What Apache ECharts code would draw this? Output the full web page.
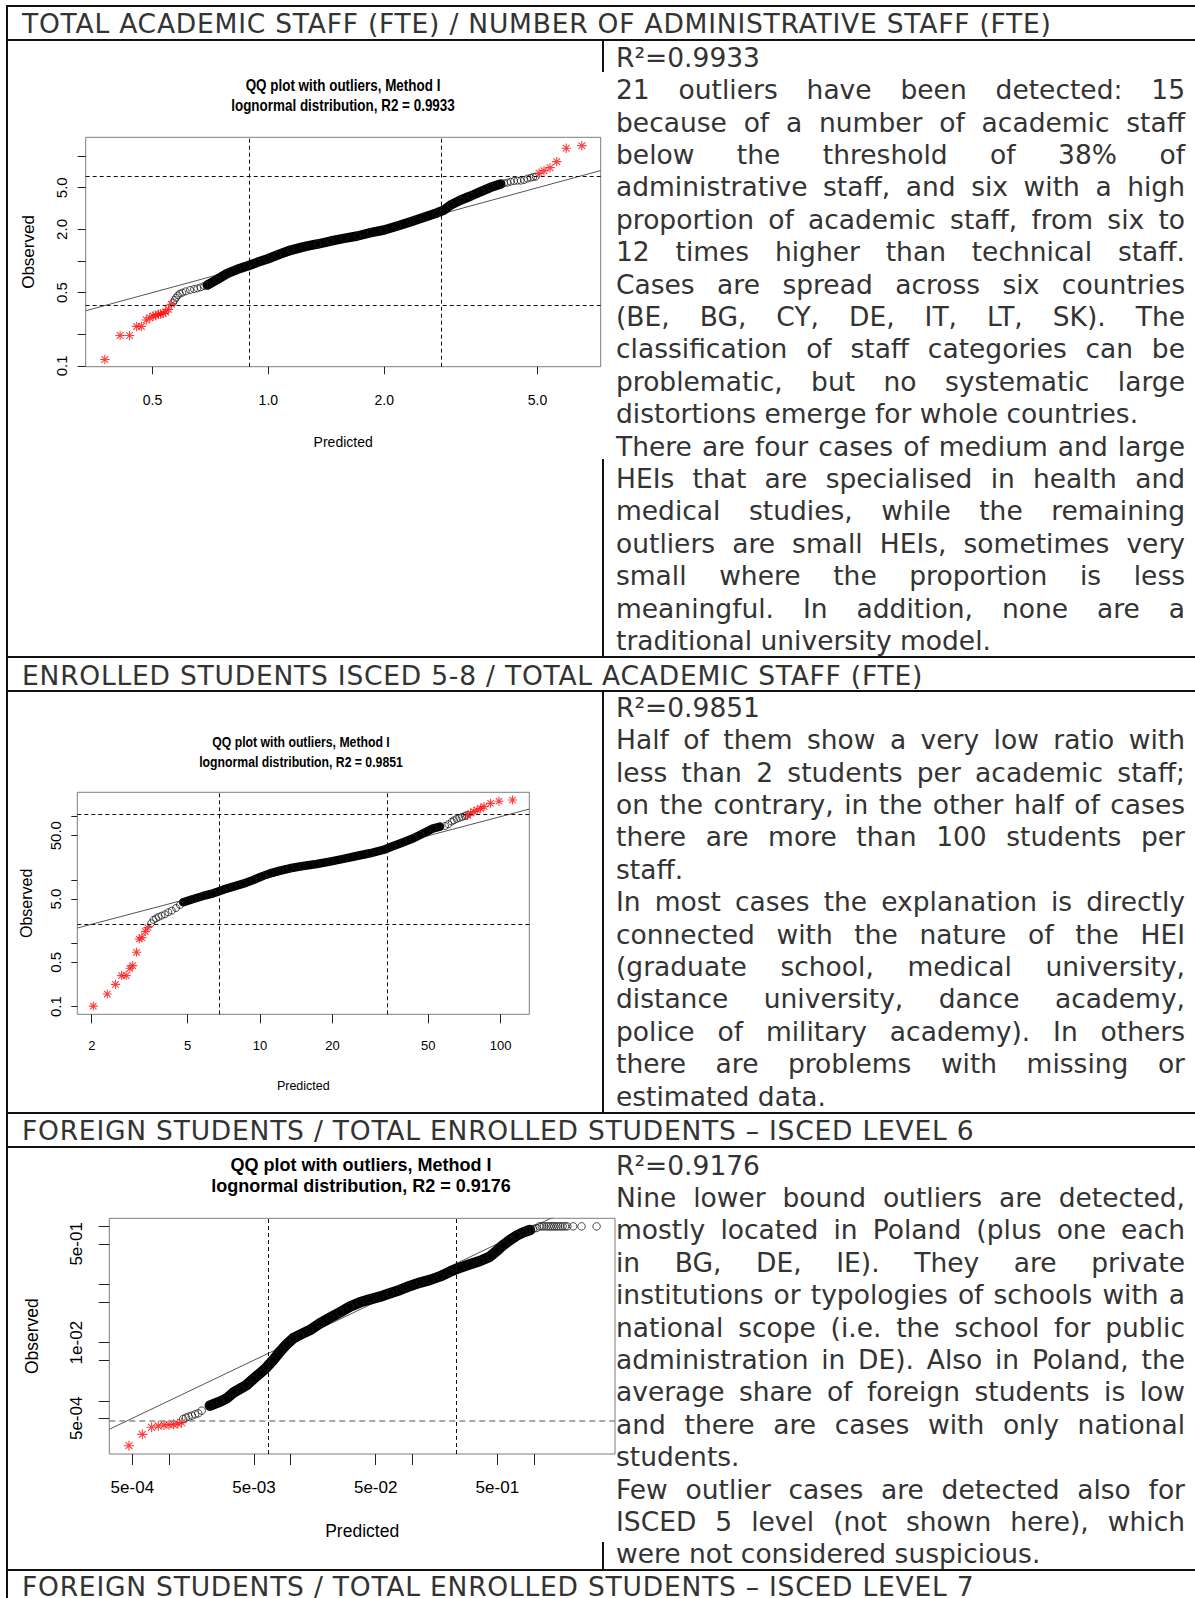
<!DOCTYPE html>
<html>
<head>
<meta charset="utf-8">
<script src="https://cdn.jsdelivr.net/npm/echarts@6.0.0/dist/echarts.min.js"></script>
<style>
html,body{margin:0;padding:0;background:#fff;}
#page{position:relative;width:1195px;height:1598px;overflow:hidden;background:#fff;font-family:"DejaVu Sans",Verdana,sans-serif;color:#333;}
.hl{position:absolute;left:6px;right:0;height:2px;background:#111;}
.vl{position:absolute;width:2px;background:#111;}
.hd{position:absolute;left:22px;font-size:26.5px;line-height:32.4px;white-space:nowrap;letter-spacing:0.78px;}
.tx{position:absolute;left:616px;width:569px;font-size:26.5px;line-height:32.4px;}
.tx div{height:32.4px;}
.j{text-align:justify;text-align-last:justify;}
.chart{position:absolute;}
</style>
</head>
<body>
<div id="page">
  <div class="hl" style="top:5px"></div>
  <div class="hl" style="top:39px"></div>
  <div class="hl" style="top:655.5px"></div>
  <div class="hl" style="top:689.5px"></div>
  <div class="hl" style="top:1112px"></div>
  <div class="hl" style="top:1145.5px"></div>
  <div class="hl" style="top:1569px"></div>
  <div class="vl" style="left:6px;top:5px;height:1593px"></div>
  <div class="vl" style="left:602px;top:40px;height:617px"></div>
  <div class="vl" style="left:602px;top:690px;height:423px"></div>
  <div class="vl" style="left:602px;top:1146px;height:424px"></div>

  <div class="hd" style="top:8.3px">TOTAL ACADEMIC STAFF (FTE) / NUMBER OF ADMINISTRATIVE STAFF (FTE)</div>
  <div class="hd" style="top:659.7px">ENROLLED STUDENTS ISCED 5-8 / TOTAL ACADEMIC STAFF (FTE)</div>
  <div class="hd" style="top:1115.3px">FOREIGN STUDENTS / TOTAL ENROLLED STUDENTS – ISCED LEVEL 6</div>
  <div class="hd" style="top:1571px">FOREIGN STUDENTS / TOTAL ENROLLED STUDENTS – ISCED LEVEL 7</div>

  <div class="tx" style="top:41.9px">
    <div>R²=0.9933</div>
    <div class="j">21 outliers have been detected: 15</div>
    <div class="j">because of a number of academic staff</div>
    <div class="j">below the threshold of 38% of</div>
    <div class="j">administrative staff, and six with a high</div>
    <div class="j">proportion of academic staff, from six to</div>
    <div class="j">12 times higher than technical staff.</div>
    <div class="j">Cases are spread across six countries</div>
    <div class="j">(BE, BG, CY, DE, IT, LT, SK). The</div>
    <div class="j">classification of staff categories can be</div>
    <div class="j">problematic, but no systematic large</div>
    <div>distortions emerge for whole countries.</div>
    <div class="j">There are four cases of medium and large</div>
    <div class="j">HEIs that are specialised in health and</div>
    <div class="j">medical studies, while the remaining</div>
    <div class="j">outliers are small HEIs, sometimes very</div>
    <div class="j">small where the proportion is less</div>
    <div class="j">meaningful. In addition, none are a</div>
    <div>traditional university model.</div>
  </div>

  <div class="tx" style="top:691.9px">
    <div>R²=0.9851</div>
    <div class="j">Half of them show a very low ratio with</div>
    <div class="j">less than 2 students per academic staff;</div>
    <div class="j">on the contrary, in the other half of cases</div>
    <div class="j">there are more than 100 students per</div>
    <div>staff.</div>
    <div class="j">In most cases the explanation is directly</div>
    <div class="j">connected with the nature of the HEI</div>
    <div class="j">(graduate school, medical university,</div>
    <div class="j">distance university, dance academy,</div>
    <div class="j">police of military academy). In others</div>
    <div class="j">there are problems with missing or</div>
    <div>estimated data.</div>
  </div>

  <div class="tx" style="top:1149.6px">
    <div>R²=0.9176</div>
    <div class="j">Nine lower bound outliers are detected,</div>
    <div class="j">mostly located in Poland (plus one each</div>
    <div class="j">in BG, DE, IE). They are private</div>
    <div class="j">institutions or typologies of schools with a</div>
    <div class="j">national scope (i.e. the school for public</div>
    <div class="j">administration in DE). Also in Poland, the</div>
    <div class="j">average share of foreign students is low</div>
    <div class="j">and there are cases with only national</div>
    <div>students.</div>
    <div class="j">Few outlier cases are detected also for</div>
    <div class="j">ISCED 5 level (not shown here), which</div>
    <div>were not considered suspicious.</div>
  </div>

  <div id="c1" class="chart" style="left:8px;top:72px;width:596px;height:387px"></div>
  <div id="c2" class="chart" style="left:8px;top:692px;width:592px;height:420px"></div>
  <div id="c3" class="chart" style="left:8px;top:1148px;width:609px;height:394px"></div>
</div>

<script>
// ---------- Plot 1: academic / administrative staff ----------
const p1Titles = ['QQ plot with outliers, Method I', 'lognormal distribution, R2 = 0.9933'];
const p1XLim = [0.3354, 7.299];
const p1YLim = [0.09817, 15.14];
const p1XTicks = [0.5, 1, 2, 5];
const p1XLabelVals = [0.5, 1, 2, 5];
const p1XLabels = ['0.5', '1.0', '2.0', '5.0'];
const p1YTicks = [0.1, 0.2, 0.5, 1, 2, 5, 10];
const p1YLabelVals = [0.1, 0.5, 2, 5];
const p1YLabels = ['0.1', '0.5', '2.0', '5.0'];
const p1HLines = [0.38, 6.52];
const p1VLines = [0.882, 2.79];
const p1Pred = [0.694,0.737,0.783,0.831,0.882,0.936,0.994,1.056,1.143,1.238,1.341,1.452,1.573,1.703,1.845,1.998,2.163,2.344,2.538,2.749,2.86,2.977,3.16,3.355,3.561,3.781,4.014];
const p1Obs  = [0.590,0.668,0.763,0.833,0.896,0.971,1.045,1.141,1.273,1.370,1.453,1.552,1.645,1.732,1.864,1.976,2.158,2.373,2.61,2.892,3.066,3.423,3.82,4.17,4.587,5.05,5.43];
const p1TailPred = [0.566,0.571,0.576,0.582,0.589,0.598,0.610,0.626,0.641,0.654,0.667,0.681,4.095,4.178,4.262,4.348,4.435,4.524,4.614,4.708,4.803,4.880,4.949];
const p1TailObs  = [0.403,0.425,0.447,0.470,0.488,0.499,0.514,0.529,0.540,0.548,0.561,0.577,5.51,5.59,5.71,5.80,5.84,5.84,5.93,6.11,6.24,6.33,6.38];
const p1OutPred = [0.376,0.412,0.436,0.455,0.468,0.482,0.492,0.502,0.510,0.518,0.525,0.533,0.541,0.550,0.560,5.05,5.20,5.39,5.61,5.94,6.52];
const p1OutObs  = [0.115,0.195,0.195,0.238,0.238,0.274,0.288,0.299,0.303,0.310,0.312,0.317,0.326,0.346,0.386,6.86,7.28,7.77,8.87,11.9,12.6];

// ---------- Plot 2: students / academic staff ----------
const p2Titles = ['QQ plot with outliers, Method I', 'lognormal distribution, R2 = 0.9851'];
const p2XLim = [1.742, 131.5];
const p2YLim = [0.0757, 242.1];
const p2XTicks = [2, 5, 10, 20, 50, 100];
const p2XLabelVals = [2, 5, 10, 20, 50, 100];
const p2XLabels = ['2', '5', '10', '20', '50', '100'];
const p2YTicks = [0.1, 0.5, 1, 5, 10, 50, 100];
const p2YLabelVals = [0.1, 0.5, 5, 50];
const p2YLabels = ['0.1', '0.5', '5.0', '50.0'];
const p2HLines = [2.0, 109];
const p2VLines = [6.78, 33.6];
const p2Pred = [4.80,5.28,5.81,6.40,7.04,7.75,8.52,9.38,10.3,11.0,12.1,13.3,15.1,17.2,19.5,22.2,25.2,28.6,32.5,35.8,39.4,43.4,46.2,49.3,52.5,56.0];
const p2Obs  = [4.44,5.01,5.59,6.15,7.03,7.85,8.75,10.0,11.6,12.7,14.0,15.3,16.6,17.9,19.5,21.5,23.9,26.4,29.8,34.4,39.4,45.5,51.4,58.0,65.5,69.5];
const p2TailPred = [3.53,3.61,3.70,3.79,3.90,4.03,4.16,4.30,4.48,4.65,58.7,60.6,62.6,64.0,65.6,67.3,69.1,70.9,72.2];
const p2TailObs  = [2.07,2.34,2.48,2.61,2.73,2.87,3.09,3.28,3.61,4.03,71.2,75.7,83.4,87.5,91.9,95.3,98.8,102,106];
const p2OutPred = [2.03,2.32,2.51,2.66,2.78,2.88,2.96,3.07,3.15,3.23,3.34,3.42,72.9,75.0,77.4,79.9,82.6,85.3,90.8,98.4,112];
const p2OutObs  = [0.102,0.158,0.225,0.309,0.309,0.403,0.444,0.721,1.17,1.23,1.53,1.77,104,113,120,127,135,144,162,175,183];

// ---------- Plot 3: foreign students share, ISCED 6 ----------
const p3Titles = ['QQ plot with outliers, Method I', 'lognormal distribution, R2 = 0.9176'];
const p3XLim = [3.233e-4, 4.634];
const p3YLim = [1.216e-4, 1.377];
const p3XTicks = [5e-4, 1e-3, 5e-3, 1e-2, 5e-2, 1e-1, 5e-1, 1];
const p3XLabelVals = [5e-4, 5e-3, 5e-2, 5e-1];
const p3XLabels = ['5e-04', '5e-03', '5e-02', '5e-01'];
const p3YTicks = [5e-4, 1e-3, 5e-3, 1e-2, 5e-2, 1e-1, 5e-1, 1];
const p3YLabelVals = [5e-4, 1e-2, 5e-1];
const p3YLabels = ['5e-04', '1e-02', '5e-01'];
const p3HLines = [4.55e-4];
const p3VLines = [6.68e-3, 0.227];
const p3Pred = [2.17e-3,2.63e-3,2.98e-3,3.38e-3,3.83e-3,4.35e-3,4.93e-3,5.60e-3,6.35e-3,7.20e-3,8.17e-3,9.27e-3,1.05e-2,1.19e-2,1.44e-2,1.74e-2,2.11e-2,2.54e-2,3.07e-2,3.72e-2,4.49e-2,5.42e-2,6.55e-2,7.92e-2,9.57e-2,0.116,0.140,0.169,0.204,0.246,0.298,0.360,0.435,0.493,0.560,0.635,0.720,0.817,0.927];
const p3Obs  = [8.25e-4,9.66e-4,1.10e-3,1.38e-3,1.60e-3,1.87e-3,2.37e-3,2.97e-3,3.76e-3,5.04e-3,7.00e-3,9.36e-3,1.19e-2,1.36e-2,1.65e-2,2.15e-2,2.69e-2,3.32e-2,4.16e-2,4.94e-2,5.56e-2,6.18e-2,7.06e-2,8.05e-2,9.44e-2,0.108,0.120,0.138,0.166,0.195,0.223,0.254,0.302,0.377,0.479,0.583,0.693,0.790,0.867];
const p3TailPred = [1.31e-3,1.38e-3,1.45e-3,1.54e-3,1.64e-3,1.74e-3,1.86e-3,0.870,0.927,0.987,1.05,1.11,1.16,1.21,1.27,1.32,1.37,1.42,1.47,1.53,1.58,1.65,1.72,1.80,1.88,2.10,2.46,3.27];
const p3TailObs  = [4.86e-4,5.13e-4,5.34e-4,5.55e-4,5.85e-4,6.09e-4,6.77e-4,0.834,0.867,0.902,0.939,1,1,1,1,1,1,1,1,1,1,1,1,1,1,1,1,1];
const p3OutPred = [4.69e-4,6.04e-4,7.20e-4,8.17e-4,9.10e-4,1.00e-3,1.09e-3,1.18e-3,1.27e-3];
const p3OutObs  = [1.69e-4,2.65e-4,3.50e-4,3.68e-4,3.84e-4,3.89e-4,3.94e-4,4.04e-4,4.21e-4];

// ---------- rendering ----------
const SANS = '"Liberation Sans", Arial, Helvetica, sans-serif';
const STAR = 'path://M5,0L5,10M0,5L10,5M1.46,1.46L8.54,8.54M1.46,8.54L8.54,1.46';
const lg = Math.log10;

function pts(xs, ys) { return xs.map((x, i) => [lg(x), lg(ys[i])]); }
function fmt(vals, labs) {
  return function (v) {
    const i = vals.findIndex(t => Math.abs(lg(t) - v) < 1e-6);
    return i < 0 ? '' : labs[i];
  };
}

function buildOption(d, s) {
  const xr = d.xLim.map(lg), yr = d.yLim.map(lg);
  const dashBlack = { color: '#111', type: [4, 3], width: 1 };
  const mlData = [];
  d.hLines.forEach(v => mlData.push({ yAxis: lg(v), lineStyle: s.hStyle || dashBlack }));
  d.vLines.forEach(v => mlData.push({ xAxis: lg(v), lineStyle: dashBlack }));
  return {
    animation: false,
    backgroundColor: s.bg,
    tooltip: { show: false },
    grid: {
      left: s.box[0], top: s.box[1], width: s.box[2], height: s.box[3],
      show: true, borderColor: '#7d7d7d', borderWidth: 1, backgroundColor: 'transparent',
      containLabel: false, outerBoundsMode: 'none'
    },
    graphic: {
      elements: d.titles.map((t, i) => ({
        type: 'text', x: s.titleX, y: s.titleY[i], scaleX: s.titleScale, silent: true,
        style: {
          text: t, fill: '#000', fontFamily: SANS, fontSize: s.titleSize, fontWeight: 'bold',
          align: 'center', verticalAlign: 'middle', textAlign: 'center', textVerticalAlign: 'middle'
        }
      }))
    },
    xAxis: {
      type: 'value', min: xr[0], max: xr[1], position: 'bottom',
      name: 'Predicted', nameLocation: 'middle', nameGap: s.xNameGap,
      nameTextStyle: { fontFamily: SANS, fontSize: s.xNameSize, color: '#000' },
      axisLine: { show: false, onZero: false },
      splitLine: { show: false },
      axisTick: { show: true, inside: false, length: s.xTick, customValues: d.xTicks.map(lg), lineStyle: { color: '#222', width: 1 } },
      axisLabel: {
        customValues: d.xLabelVals.map(lg), formatter: fmt(d.xLabelVals, d.xLabels),
        margin: s.xMargin, fontFamily: SANS, fontSize: s.xSize, color: '#000'
      }
    },
    yAxis: {
      type: 'value', min: yr[0], max: yr[1], position: 'left',
      name: 'Observed', nameLocation: 'middle', nameGap: s.yNameGap, nameRotate: 90,
      nameTextStyle: { fontFamily: SANS, fontSize: s.yNameSize, color: '#000' },
      axisLine: { show: false, onZero: false },
      splitLine: { show: false },
      axisTick: { show: true, inside: false, length: s.yTick, customValues: d.yTicks.map(lg), lineStyle: { color: '#222', width: 1 } },
      axisLabel: {
        customValues: d.yLabelVals.map(lg), formatter: fmt(d.yLabelVals, d.yLabels), rotate: 90,
        margin: s.yMargin, fontFamily: SANS, fontSize: s.ySize, color: '#000'
      }
    },
    series: [
      {
        type: 'line', name: 'reference', silent: true, clip: true, z: 1,
        data: [[xr[0], xr[0]], [xr[1], xr[1]]], symbol: 'none',
        lineStyle: { color: '#555', width: 1 },
        markLine: { silent: true, symbol: 'none', label: { show: false }, animation: false, data: mlData }
      },
      {
        type: 'line', name: 'band', silent: true, z: 2, symbol: 'none', showSymbol: false,
        data: pts(d.pred, d.obs),
        lineStyle: { color: '#000', width: s.band, cap: 'round', join: 'round' }
      },
      {
        type: 'scatter', name: 'observed', silent: true, z: 3,
        data: pts(d.pred, d.obs).concat(pts(d.tailPred, d.tailObs)),
        symbol: 'circle', symbolSize: s.ring,
        itemStyle: { color: 'rgba(0,0,0,0)', borderColor: '#1a1a1a', borderWidth: 1 }
      },
      {
        type: 'scatter', name: 'outliers', silent: true, z: 4,
        data: pts(d.outPred, d.outObs),
        symbol: STAR, symbolSize: s.star,
        itemStyle: { color: '#ff0000', borderColor: '#ff1010', borderWidth: 1.1 }
      }
    ]
  };
}

const plots = [
  {
    el: 'c1',
    d: { titles: p1Titles, xLim: p1XLim, yLim: p1YLim, xTicks: p1XTicks, xLabelVals: p1XLabelVals, xLabels: p1XLabels,
         yTicks: p1YTicks, yLabelVals: p1YLabelVals, yLabels: p1YLabels, hLines: p1HLines, vLines: p1VLines,
         pred: p1Pred, obs: p1Obs, tailPred: p1TailPred, tailObs: p1TailObs, outPred: p1OutPred, outObs: p1OutObs },
    s: { bg: '#fff', box: [77.7, 65.3, 515, 229.4], titleX: 335, titleY: [13.4, 33.2], titleSize: 16, titleScale: 0.84,
         xSize: 14, xTick: 7.6, xMargin: 26, xNameGap: 68, xNameSize: 14,
         ySize: 15, yTick: 8, yMargin: 17, yNameGap: 49, yNameSize: 17,
         band: 9.5, ring: 7, star: 9.5 }
  },
  {
    el: 'c2',
    d: { titles: p2Titles, xLim: p2XLim, yLim: p2YLim, xTicks: p2XTicks, xLabelVals: p2XLabelVals, xLabels: p2XLabels,
         yTicks: p2YTicks, yLabelVals: p2YLabelVals, yLabels: p2YLabels, hLines: p2HLines, vLines: p2VLines,
         pred: p2Pred, obs: p2Obs, tailPred: p2TailPred, tailObs: p2TailObs, outPred: p2OutPred, outObs: p2OutObs },
    s: { bg: 'transparent', box: [69.3, 100.3, 452, 222], titleX: 293, titleY: [49.7, 69.7], titleSize: 15.5, titleScale: 0.79,
         xSize: 13, xTick: 9, xMargin: 25, xNameGap: 65, xNameSize: 12.5,
         ySize: 15, yTick: 6, yMargin: 14, yNameGap: 43, yNameSize: 16,
         band: 8.5, ring: 7, star: 9 }
  },
  {
    el: 'c3',
    d: { titles: p3Titles, xLim: p3XLim, yLim: p3YLim, xTicks: p3XTicks, xLabelVals: p3XLabelVals, xLabels: p3XLabels,
         yTicks: p3YTicks, yLabelVals: p3YLabelVals, yLabels: p3YLabels, hLines: p3HLines, vLines: p3VLines,
         pred: p3Pred, obs: p3Obs, tailPred: p3TailPred, tailObs: p3TailObs, outPred: p3OutPred, outObs: p3OutObs },
    s: { bg: '#fff', box: [101.3, 70.3, 505.7, 235.7], titleX: 353, titleY: [17, 38], titleSize: 18, titleScale: 1,
         xSize: 17, xTick: 11, xMargin: 25, xNameGap: 68, xNameSize: 17.5,
         ySize: 17, yTick: 10.5, yMargin: 24, yNameGap: 68, yNameSize: 17.5,
         band: 10.5, ring: 7.5, star: 10,
         hStyle: { color: '#8c8c8c', type: [6, 4], width: 1.5 } }
  }
];

plots.forEach(p => {
  const chart = echarts.init(document.getElementById(p.el), null, { renderer: 'svg' });
  chart.setOption(buildOption(p.d, p.s));
});
</script>
</body>
</html>
